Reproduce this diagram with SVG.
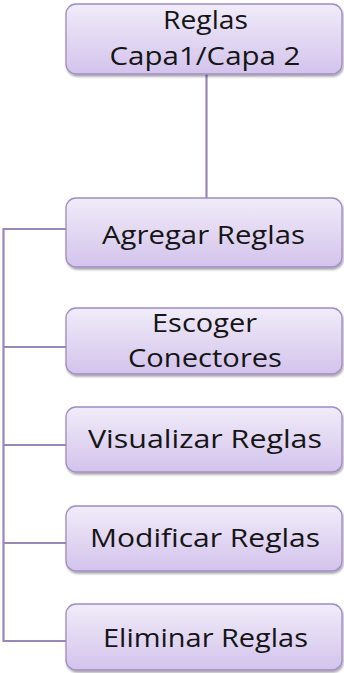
<svg xmlns="http://www.w3.org/2000/svg" width="344" height="673" viewBox="0 0 344 673">
  <defs>
    <linearGradient id="boxFill" x1="0" y1="0" x2="0" y2="1">
      <stop offset="0" stop-color="#f1ecf9"/>
      <stop offset="1" stop-color="#d3c3ec"/>
    </linearGradient>
    <filter id="shadow" x="-5%" y="-10%" width="115%" height="130%">
      <feGaussianBlur in="SourceAlpha" stdDeviation="1.2"/>
      <feOffset dx="1" dy="2" result="b"/>
      <feComponentTransfer><feFuncA type="linear" slope="0.35"/></feComponentTransfer>
      <feMerge><feMergeNode/><feMergeNode in="SourceGraphic"/></feMerge>
    </filter>
  </defs>
  <style>
    .box { fill: url(#boxFill); stroke: #a08cc4; stroke-width: 1.3; filter: url(#shadow); }
    .lbl { font-family: "Open Sans", "Liberation Sans", Arial, sans-serif; font-size: 26px; fill: #151515; text-anchor: middle; }
    .conn { stroke: #9a86b8; stroke-width: 2.2; fill: none; }
  </style>
  <g id="connectors">
    <line class="conn" x1="206.5" y1="74" x2="206.5" y2="198"/>
    <line class="conn" x1="3.5" y1="228" x2="3.5" y2="642"/>
    <line class="conn" x1="3.5" y1="229" x2="66" y2="229"/>
    <line class="conn" x1="3.5" y1="347" x2="66" y2="347"/>
    <line class="conn" x1="3.5" y1="445" x2="66" y2="445"/>
    <line class="conn" x1="3.5" y1="543" x2="66" y2="543"/>
    <line class="conn" x1="3.5" y1="641" x2="66" y2="641"/>
  </g>
  <g id="node-root">
    <rect class="box" x="66" y="4" width="276" height="70" rx="10"/>
    <text class="lbl" x="205.5" y="29" textLength="85" lengthAdjust="spacingAndGlyphs">Reglas</text>
    <text class="lbl" x="205" y="65" textLength="191" lengthAdjust="spacingAndGlyphs">Capa1/Capa 2</text>
  </g>
  <g id="node-agregar">
    <rect class="box" x="66" y="198" width="276" height="69" rx="10"/>
    <text class="lbl" x="203.5" y="244" textLength="203" lengthAdjust="spacingAndGlyphs">Agregar Reglas</text>
  </g>
  <g id="node-escoger">
    <rect class="box" x="66" y="308" width="276" height="66" rx="10"/>
    <text class="lbl" x="204.5" y="332" textLength="105" lengthAdjust="spacingAndGlyphs">Escoger</text>
    <text class="lbl" x="205" y="367" textLength="154" lengthAdjust="spacingAndGlyphs">Conectores</text>
  </g>
  <g id="node-visualizar">
    <rect class="box" x="66" y="407" width="276" height="65" rx="10"/>
    <text class="lbl" x="205" y="448" textLength="234" lengthAdjust="spacingAndGlyphs">Visualizar Reglas</text>
  </g>
  <g id="node-modificar">
    <rect class="box" x="66" y="506" width="276" height="65" rx="10"/>
    <text class="lbl" x="205" y="547" textLength="230" lengthAdjust="spacingAndGlyphs">Modificar Reglas</text>
  </g>
  <g id="node-eliminar">
    <rect class="box" x="66" y="604" width="276" height="66" rx="10"/>
    <text class="lbl" x="205.5" y="647" textLength="205" lengthAdjust="spacingAndGlyphs">Eliminar Reglas</text>
  </g>
</svg>
